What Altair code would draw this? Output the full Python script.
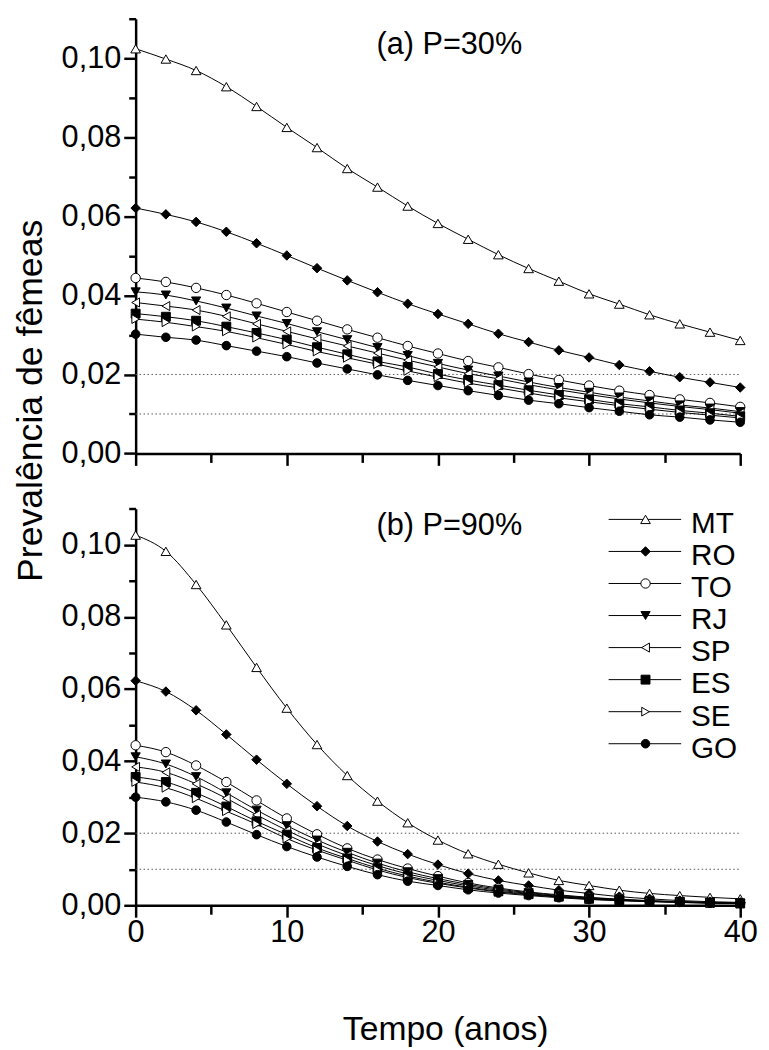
import altair as alt
import pandas as pd

years = list(range(0, 41, 2))
states = ["MT", "RO", "TO", "RJ", "SP", "ES", "SE", "GO"]
shapes = ["triangle-up", "diamond", "circle", "triangle-down", "triangle-left", "square", "triangle-right", "circle"]
fills = ["white", "black", "white", "black", "white", "black", "white", "black"]
sizes = [95, 75, 65, 80, 80, 55, 80, 65]

# (a) P=30%
MT_a = [0.1024, 0.0998, 0.0969, 0.0928, 0.0878, 0.0825, 0.0774, 0.0721, 0.0674, 0.0626, 0.0582, 0.0542, 0.0503, 0.0468, 0.0436, 0.0404, 0.0378, 0.0351, 0.0328, 0.0307, 0.0286]
RO_a = [0.0621, 0.0605, 0.0586, 0.0561, 0.0532, 0.0501, 0.0469, 0.0438, 0.0408, 0.0379, 0.0353, 0.0328, 0.0303, 0.0282, 0.0261, 0.0243, 0.0224, 0.0208, 0.0193, 0.0180, 0.0167]
TO_a = [0.0444, 0.0434, 0.0419, 0.0401, 0.0380, 0.0358, 0.0336, 0.0314, 0.0293, 0.0272, 0.0253, 0.0234, 0.0218, 0.0201, 0.0186, 0.0172, 0.0159, 0.0148, 0.0137, 0.0128, 0.0118]
RJ_a = [0.0409, 0.0401, 0.0386, 0.0368, 0.0348, 0.0329, 0.0308, 0.0288, 0.0268, 0.0248, 0.0228, 0.0211, 0.0196, 0.0181, 0.0167, 0.0155, 0.0143, 0.0133, 0.0123, 0.0115, 0.0106]
SP_a = [0.0382, 0.0373, 0.0363, 0.0347, 0.0328, 0.0309, 0.0290, 0.0272, 0.0254, 0.0236, 0.0219, 0.0202, 0.0189, 0.0174, 0.0161, 0.0149, 0.0138, 0.0128, 0.0119, 0.0111, 0.0102]
ES_a = [0.0354, 0.0346, 0.0336, 0.0321, 0.0305, 0.0288, 0.0269, 0.0251, 0.0233, 0.0219, 0.0201, 0.0186, 0.0173, 0.0160, 0.0148, 0.0137, 0.0126, 0.0118, 0.0109, 0.0102, 0.0094]
SE_a = [0.0340, 0.0332, 0.0321, 0.0309, 0.0293, 0.0276, 0.0258, 0.0242, 0.0226, 0.0209, 0.0193, 0.0178, 0.0166, 0.0153, 0.0141, 0.0131, 0.0121, 0.0112, 0.0104, 0.0097, 0.0090]
GO_a = [0.0302, 0.0294, 0.0287, 0.0273, 0.0259, 0.0245, 0.0229, 0.0214, 0.0199, 0.0185, 0.0172, 0.0159, 0.0147, 0.0135, 0.0126, 0.0116, 0.0107, 0.0098, 0.0092, 0.0085, 0.0079]

# (b) P=90%
MT_b = [0.1027, 0.0982, 0.0890, 0.0778, 0.0660, 0.0547, 0.0446, 0.0360, 0.0289, 0.0229, 0.0181, 0.0143, 0.0114, 0.0090, 0.0069, 0.0055, 0.0042, 0.0033, 0.0027, 0.0022, 0.0018]
RO_b = [0.0623, 0.0593, 0.0541, 0.0474, 0.0404, 0.0337, 0.0275, 0.0220, 0.0177, 0.0142, 0.0113, 0.0088, 0.0069, 0.0055, 0.0042, 0.0033, 0.0024, 0.0018, 0.0013, 0.0010, 0.0008]
TO_b = [0.0444, 0.0425, 0.0388, 0.0342, 0.0291, 0.0241, 0.0197, 0.0158, 0.0127, 0.0102, 0.0081, 0.0062, 0.0048, 0.0037, 0.0029, 0.0022, 0.0017, 0.0013, 0.0010, 0.0008, 0.0006]
RJ_b = [0.0412, 0.0392, 0.0357, 0.0312, 0.0264, 0.0221, 0.0181, 0.0147, 0.0117, 0.0093, 0.0074, 0.0058, 0.0045, 0.0035, 0.0027, 0.0021, 0.0016, 0.0012, 0.0010, 0.0007, 0.0006]
SP_b = [0.0384, 0.0369, 0.0337, 0.0297, 0.0251, 0.0208, 0.0170, 0.0138, 0.0110, 0.0087, 0.0069, 0.0054, 0.0042, 0.0033, 0.0025, 0.0020, 0.0015, 0.0012, 0.0009, 0.0007, 0.0006]
ES_b = [0.0356, 0.0342, 0.0312, 0.0274, 0.0233, 0.0196, 0.0159, 0.0130, 0.0103, 0.0081, 0.0064, 0.0050, 0.0039, 0.0031, 0.0024, 0.0018, 0.0014, 0.0011, 0.0009, 0.0007, 0.0005]
SE_b = [0.0342, 0.0326, 0.0297, 0.0261, 0.0225, 0.0185, 0.0153, 0.0125, 0.0098, 0.0077, 0.0061, 0.0048, 0.0037, 0.0029, 0.0023, 0.0017, 0.0013, 0.0011, 0.0008, 0.0006, 0.0005]
GO_b = [0.0300, 0.0287, 0.0264, 0.0231, 0.0196, 0.0163, 0.0134, 0.0108, 0.0085, 0.0067, 0.0055, 0.0043, 0.0034, 0.0027, 0.0021, 0.0016, 0.0013, 0.0010, 0.0008, 0.0006, 0.0005]

ref_levels = [0.02, 0.01]
x_ticks = [0, 5, 10, 15, 20, 25, 30, 35, 40]
y_ticks = [0.0, 0.01, 0.02, 0.03, 0.04, 0.05, 0.06, 0.07, 0.08, 0.09, 0.10, 0.11]

series_a = [MT_a, RO_a, TO_a, RJ_a, SP_a, ES_a, SE_a, GO_a]
series_b = [MT_b, RO_b, TO_b, RJ_b, SP_b, ES_b, SE_b, GO_b]


def long_df(series):
    rows = []
    for st, vals in zip(states, series):
        for t, v in zip(years, vals):
            rows.append({"t": t, "state": st, "v": v})
    return pd.DataFrame(rows)


df_a = long_df(series_a)
df_b = long_df(series_b)
df_ref = pd.DataFrame({"v": ref_levels, "x0": [0] * len(ref_levels), "x1": [40] * len(ref_levels)})

FONT = "Liberation Sans"
W, H = 611, 896
RANGE_A = [439.4, 0]
RANGE_B = [896, 495.3]

y_label_expr = "round(datum.value*100) % 2 === 0 ? replace(format(datum.value, '.2f'), '.', ',') : ''"
y_tick_size = {"condition": {"test": "round(datum.value*100) % 2 === 0", "value": 12}, "value": 7}
x_tick_size = {"condition": {"test": "datum.value % 10 === 0", "value": 12}, "value": 9}

common_axis = dict(
    grid=False, domainColor="black", domainWidth=2.5, tickColor="black", tickWidth=2.5,
    labelColor="black", labelFont=FONT, labelFontSize=31, labelOverlap=False, labelFlush=False,
)


def y_axis(title_on):
    kw = dict(common_axis)
    kw.update(orient="left", values=y_ticks, labelExpr=y_label_expr, tickSize=y_tick_size, labelPadding=3)
    if title_on:
        kw.update(title="Prevalência de fêmeas", titleFont=FONT, titleFontSize=36, titleFontWeight="normal",
                  titleColor="black", titleAngle=270, titleX=-95.5, titleY=385.7, titleAlign="center",
                  titleBaseline="alphabetic")
    else:
        kw.update(title=None)
    return alt.Axis(**kw)


def x_axis(bottom_panel):
    kw = dict(common_axis)
    kw.update(orient="bottom", values=x_ticks, tickSize=x_tick_size)
    if bottom_panel:
        kw.update(labelExpr="datum.value % 10 === 0 ? datum.label : ''", labelPadding=1,
                  title="Tempo (anos)", titleFont=FONT, titleFontSize=34, titleFontWeight="normal",
                  titleColor="black", titleX=312.8, titleY=136, titleAlign="center",
                  titleBaseline="alphabetic")
    else:
        kw.update(labels=False, title=None, offset=RANGE_A[0] - H)
    return alt.Axis(**kw)


shape_enc = alt.Shape("state:N", scale=alt.Scale(domain=states, range=shapes), legend=None)
fill_enc = alt.Fill("state:N", scale=alt.Scale(domain=states, range=fills), legend=None)
size_enc = alt.Size("state:N", scale=alt.Scale(domain=states, range=sizes), legend=None)


def panel(df, yrange, bottom_panel, label, label_y):
    xs = alt.Scale(domain=[0, 40], nice=False, zero=False)
    ys = alt.Scale(domain=[0, 0.11], range=yrange, nice=False, zero=False)
    xenc = alt.X("t:Q", scale=xs, axis=x_axis(bottom_panel))
    yenc = alt.Y("v:Q", scale=ys, axis=y_axis(not bottom_panel))
    ref = alt.Chart(df_ref).mark_rule(color="#555555", strokeWidth=1, strokeDash=[1.5, 2.5]).encode(
        x=alt.X("x0:Q", scale=xs, axis=x_axis(bottom_panel)), x2="x1:Q", y=yenc)
    lines = alt.Chart(df).mark_line(color="black", strokeWidth=1, interpolate="monotone").encode(
        x=xenc, y=yenc, detail="state:N")
    pts = alt.Chart(df).mark_point(filled=True, stroke="black", strokeWidth=1, opacity=1).encode(
        x=xenc, y=yenc, shape=shape_enc, fill=fill_enc, size=size_enc)
    txt = alt.Chart(pd.DataFrame({"label": [label]})).mark_text(
        font=FONT, fontSize=31, color="black", align="center", baseline="alphabetic").encode(
        text="label:N", x=alt.value(317), y=alt.value(label_y))
    return alt.layer(ref, lines, pts, txt)


panel_a = panel(df_a, RANGE_A, False, "(a) P=30%", 36)
panel_b = panel(df_b, RANGE_B, True, "(b) P=90%", 521.7)

leg_df = pd.DataFrame({"state": states})
yleg = alt.Y("state:N", scale=alt.Scale(type="point", domain=states, range=[506, 732.7], padding=0), axis=None)
leg_rule = alt.Chart(leg_df).mark_rule(color="black", strokeWidth=1).encode(
    y=yleg, x=alt.value(478), x2=alt.value(551.3))
leg_pts = alt.Chart(leg_df).mark_point(filled=True, stroke="black", strokeWidth=1, opacity=1).encode(
    y=yleg, x=alt.value(515.3), shape=shape_enc, fill=fill_enc, size=size_enc)
leg_txt = alt.Chart(leg_df).mark_text(font=FONT, fontSize=30, color="black", align="left",
                                      baseline="alphabetic", dy=14).encode(
    y=yleg, x=alt.value(561.3), text="state:N")
legend = alt.layer(leg_rule, leg_pts, leg_txt)

chart = alt.layer(panel_a, panel_b, legend).resolve_scale(
    x="independent", y="independent"
).properties(
    width=W, height=H,
    autosize=alt.AutoSizeParams(type="none"),
    padding={"left": 129, "top": 5.3, "right": 21, "bottom": 140.7},
    background="white",
).configure_view(stroke=None)

chart.save("out.html", embed_options={"renderer": "svg", "actions": False})
